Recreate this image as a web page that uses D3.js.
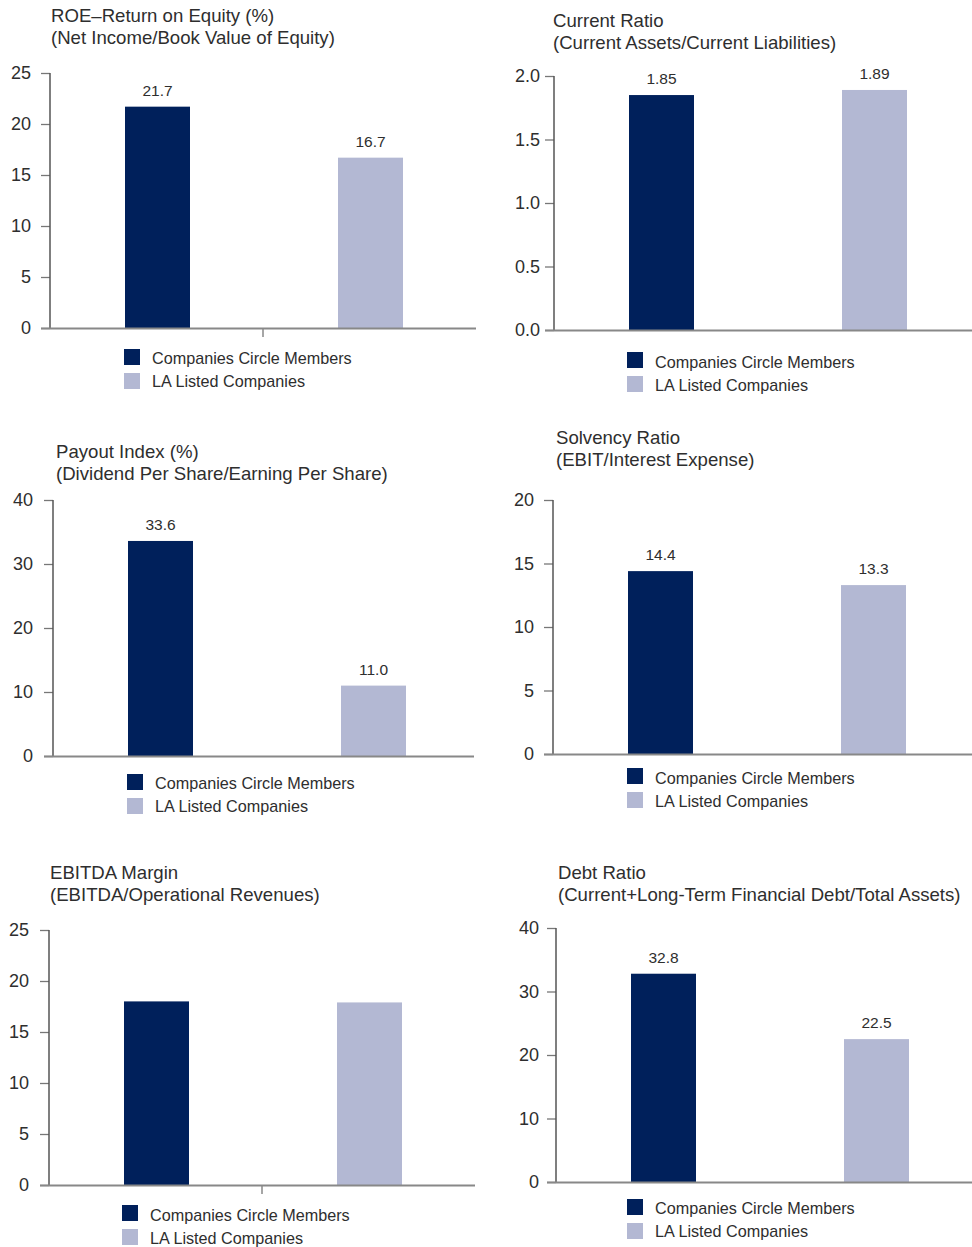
<!DOCTYPE html>
<html>
<head>
<meta charset="utf-8">
<script src="https://cdn.jsdelivr.net/npm/d3@7"></script>
<style>
  html, body { margin: 0; padding: 0; background: #fff; }
  svg { display: block; }
  text { font-family: "Liberation Sans", Arial, Helvetica, sans-serif; fill: #2e2e2e; }
</style>
</head>
<body>
<svg id="chart" width="972" height="1247"></svg>
<script>
// ---------- DATA ----------
const seriesNames = ["Companies Circle Members", "LA Listed Companies"];
const seriesColors = ["#00205b", "#b3b8d3"];

const roeTitle = ["ROE\u2013Return on Equity (%)", "(Net Income/Book Value of Equity)"];
const roeValues = [21.7, 16.7];
const roeLabels = ["21.7", "16.7"];
const roeTicks = [0, 5, 10, 15, 20, 25];

const currentTitle = ["Current Ratio", "(Current Assets/Current Liabilities)"];
const currentValues = [1.85, 1.89];
const currentLabels = ["1.85", "1.89"];
const currentTicks = [0, 0.5, 1.0, 1.5, 2.0];

const payoutTitle = ["Payout Index (%)", "(Dividend Per Share/Earning Per Share)"];
const payoutValues = [33.6, 11.0];
const payoutLabels = ["33.6", "11.0"];
const payoutTicks = [0, 10, 20, 30, 40];

const solvencyTitle = ["Solvency Ratio", "(EBIT/Interest Expense)"];
const solvencyValues = [14.4, 13.3];
const solvencyLabels = ["14.4", "13.3"];
const solvencyTicks = [0, 5, 10, 15, 20];

const ebitdaTitle = ["EBITDA Margin", "(EBITDA/Operational Revenues)"];
const ebitdaValues = [18.0, 17.9];
const ebitdaLabels = [];
const ebitdaTicks = [0, 5, 10, 15, 20, 25];

const debtTitle = ["Debt Ratio", "(Current+Long-Term Financial Debt/Total Assets)"];
const debtValues = [32.8, 22.5];
const debtLabels = ["32.8", "22.5"];
const debtTicks = [0, 10, 20, 30, 40];

// ---------- LAYOUT ----------
const panels = [
  { title: roeTitle, values: roeValues, labels: roeLabels, ticks: roeTicks, fmt: d3.format("d"),
    axisX: 50, top: 73, base: 328, xEnd: 476, tickPad: 10, midTick: true,
    titleX: 51, titleY: 22, legX: 124, legY: 349, legTextY: 364 },
  { title: currentTitle, values: currentValues, labels: currentLabels, ticks: currentTicks, fmt: d3.format(".1f"),
    axisX: 554, top: 76, base: 330, xEnd: 980, tickPad: 5, midTick: false,
    titleX: 553, titleY: 27, legX: 627, legY: 352, legTextY: 368 },
  { title: payoutTitle, values: payoutValues, labels: payoutLabels, ticks: payoutTicks, fmt: d3.format("d"),
    axisX: 53, top: 500, base: 756, xEnd: 474, tickPad: 11, midTick: false,
    titleX: 56, titleY: 458, legX: 127, legY: 774, legTextY: 789 },
  { title: solvencyTitle, values: solvencyValues, labels: solvencyLabels, ticks: solvencyTicks, fmt: d3.format("d"),
    axisX: 553, top: 500, base: 754, xEnd: 979, tickPad: 10, midTick: false,
    titleX: 556, titleY: 444, legX: 627, legY: 768, legTextY: 784 },
  { title: ebitdaTitle, values: ebitdaValues, labels: ebitdaLabels, ticks: ebitdaTicks, fmt: d3.format("d"),
    axisX: 49, top: 930, base: 1185, xEnd: 475, tickPad: 11, midTick: true,
    titleX: 50, titleY: 879, legX: 122, legY: 1205, legTextY: 1221 },
  { title: debtTitle, values: debtValues, labels: debtLabels, ticks: debtTicks, fmt: d3.format("d"),
    axisX: 556, top: 928, base: 1182, xEnd: 982, tickPad: 8, midTick: false,
    titleX: 558, titleY: 879, legX: 627, legY: 1199, legTextY: 1214 }
];

const svg = d3.select("#chart");
const barWidth = 65;

panels.forEach(p => {
  const g = svg.append("g");

  // title
  p.title.forEach((t, i) => {
    g.append("text")
      .attr("x", p.titleX).attr("y", p.titleY + i * 22)
      .style("font-size", "18.6px")
      .text(t);
  });

  const x = d3.scalePoint().domain(seriesNames).range([p.axisX, p.axisX + 426]).padding(0.5);
  const y = d3.scaleLinear().domain([0, d3.max(p.ticks)]).range([p.base, p.top]);

  // bars
  g.selectAll("rect.bar").data(p.values).join("rect")
    .attr("class", "bar")
    .attr("x", (d, i) => x(seriesNames[i]) - barWidth / 2 + 1)
    .attr("width", barWidth)
    .attr("y", d => y(d))
    .attr("height", d => y(0) - y(d))
    .attr("fill", (d, i) => seriesColors[i]);

  // value labels
  g.selectAll("text.val").data(p.labels).join("text")
    .attr("class", "val")
    .attr("x", (d, i) => x(seriesNames[i]) + 1)
    .attr("y", (d, i) => y(p.values[i]) - 11)
    .attr("text-anchor", "middle")
    .style("font-size", "15.5px")
    .text(d => d);

  // y axis
  const yAxis = d3.axisLeft(y).tickValues(p.ticks).tickFormat(p.fmt)
    .tickSize(9).tickPadding(p.tickPad);
  const ya = g.append("g").attr("transform", `translate(${p.axisX},0)`).call(yAxis);
  ya.select(".domain").remove();
  ya.selectAll(".tick line").attr("stroke", "#777").attr("stroke-width", 1.3);
  ya.selectAll(".tick text").style("font-size", "18px")
    .style("font-family", "'Liberation Sans', Arial, sans-serif").attr("fill", "#2e2e2e");
  g.append("line")
    .attr("x1", p.axisX).attr("x2", p.axisX)
    .attr("y1", p.top).attr("y2", p.base)
    .attr("stroke", "#555").attr("stroke-width", 1.5);

  // x axis baseline
  g.append("line")
    .attr("x1", p.axisX - 9).attr("x2", Math.min(p.xEnd, 972))
    .attr("y1", p.base + 0.5).attr("y2", p.base + 0.5)
    .attr("stroke", "#888").attr("stroke-width", 2);

  if (p.midTick) {
    const midX = (x(seriesNames[0]) + x(seriesNames[1])) / 2;
    g.append("line")
      .attr("x1", midX).attr("x2", midX)
      .attr("y1", p.base).attr("y2", p.base + 9)
      .attr("stroke", "#888").attr("stroke-width", 1.5);
  }

  // legend
  seriesNames.forEach((s, i) => {
    g.append("rect")
      .attr("x", p.legX).attr("y", p.legY + i * 24)
      .attr("width", 16).attr("height", 16)
      .attr("fill", seriesColors[i]);
    g.append("text")
      .attr("x", p.legX + 28).attr("y", p.legTextY + i * 23)
      .style("font-size", "16.2px")
      .text(s);
  });
});
</script>
</body>
</html>
